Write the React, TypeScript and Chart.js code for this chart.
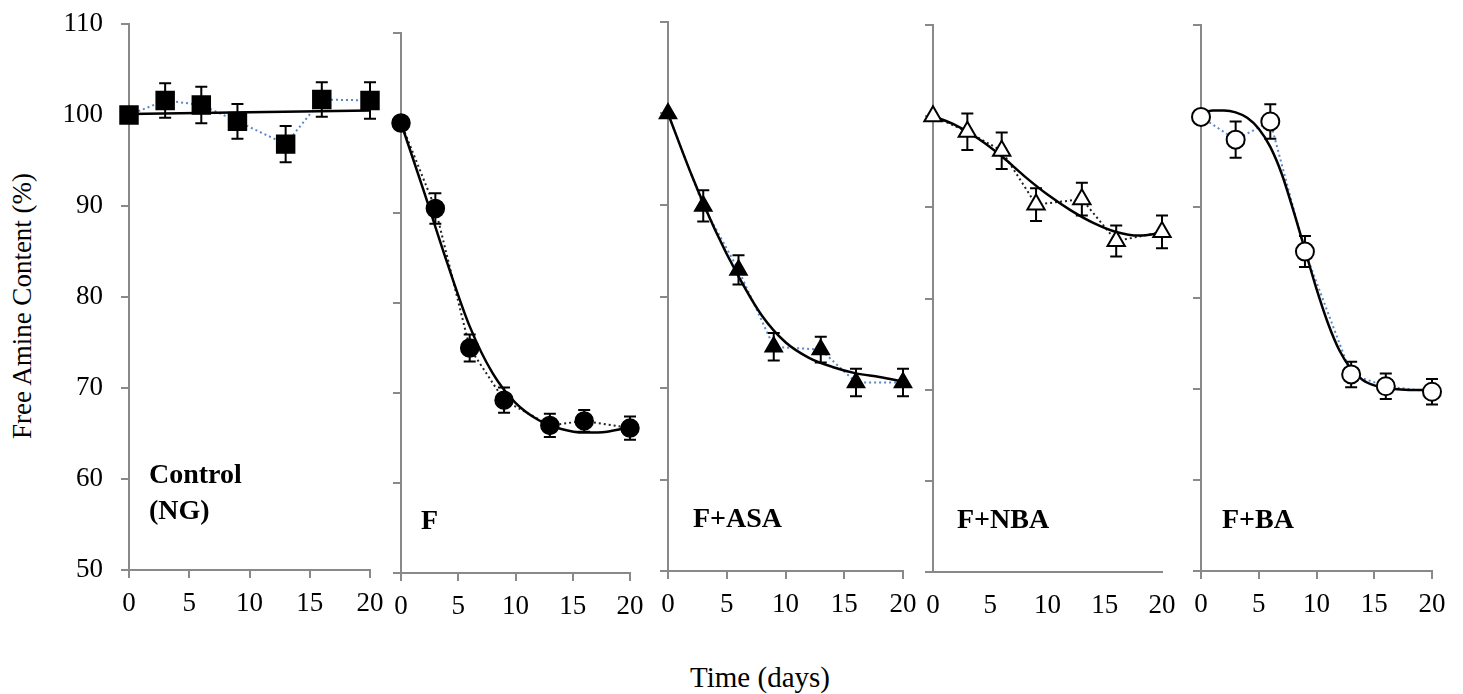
import React, { useEffect, useRef } from 'react';
import { Chart, registerables } from 'chart.js';

Chart.register(...registerables);

// ---------- data ----------
const days = [0, 3, 6, 9, 13, 16, 20];

const controlValues = [100, 101.6, 101.1, 99.3, 96.8, 101.7, 101.6];
const controlErrors = [0, 1.9, 2.0, 1.9, 2.0, 1.9, 2.0];
const controlFitDays = [0, 20];
const controlFit = [100.1, 100.5];

const fValues = [100, 90.5, 75.0, 69.2, 66.4, 66.9, 66.1];
const fErrors = [0, 1.7, 1.5, 1.4, 1.3, 1.2, 1.3];

const asaValues = [100, 89.9, 82.9, 74.5, 74.2, 70.6, 70.6];
const asaErrors = [0, 1.7, 1.6, 1.5, 1.4, 1.5, 1.5];

const nbaValues = [100, 98.3, 96.2, 90.3, 90.9, 86.3, 87.3];
const nbaErrors = [0, 2.0, 2.0, 1.8, 1.8, 1.7, 1.8];

const baValues = [99.9, 97.4, 99.4, 85.1, 71.6, 70.3, 69.7];
const baErrors = [0, 2.0, 1.9, 1.7, 1.4, 1.4, 1.4];

const fitDays = [0, 2, 4, 6, 8, 10, 12, 14, 16, 18, 20];
const fFit = [100, 92.4, 84.6, 77.4, 72.2, 68.9, 67.0, 66.0, 65.6, 65.7, 66.2];
const asaFit = [100, 93.3, 87.3, 82.2, 77.9, 75.0, 73.3, 72.3, 71.6, 71.2, 70.7];
const nbaFit = [100, 99.0, 97.5, 95.6, 93.4, 91.4, 89.7, 88.3, 87.3, 86.9, 87.2];

const baFitDays = [0, 1, 2, 3, 4, 5, 6, 7, 8, 9, 10, 11, 12, 13, 14, 15, 16, 18, 20];
const baFit = [100.3, 100.6, 100.6, 100.4, 99.8, 98.6, 96.6, 93.6, 89.6, 85.3, 81.0, 77.2, 74.2, 72.2, 71.0, 70.4, 70.1, 69.9, 69.9];

const xMin = 0;
const xMax = 20;
const xStep = 5;
const yMin = 50;
const yMax = 110;
const yStep = 10;

const yTitle = 'Free Amine Content (%)';
const xTitle = 'Time (days)';

// ---------- styling / layout ----------
const AXIS = '#898989';
const BLUE = '#5b87c6';
const FONT = 'Liberation Serif, Times New Roman, serif';

type Panel = {
  name: string[];
  values: number[];
  errors: number[];
  fitX: number[];
  fitY: number[];
  marker: 'rect' | 'circle' | 'triangle';
  radius: number;
  fill: string;
  dotColor: string;
  L: number; R: number; T: number; B: number;
  showY: boolean;
  xTickMarks: boolean;
  labelLeft: number;
  labelTop: number;
};

const panels: Panel[] = [
  { name: ['Control', '(NG)'], values: controlValues, errors: controlErrors, fitX: controlFitDays, fitY: controlFit,
    marker: 'rect', radius: 12.7, fill: '#000', dotColor: BLUE, L: 129, R: 370, T: 24, B: 570, showY: true, xTickMarks: true,
    labelLeft: 149, labelTop: 455.5 },
  { name: ['F'], values: fValues, errors: fErrors, fitX: fitDays, fitY: fFit,
    marker: 'circle', radius: 9, fill: '#000', dotColor: '#222', L: 401, R: 630, T: 33, B: 573, showY: false, xTickMarks: true,
    labelLeft: 421, labelTop: 501.5 },
  { name: ['F+ASA'], values: asaValues, errors: asaErrors, fitX: fitDays, fitY: asaFit,
    marker: 'triangle', radius: 10, fill: '#000', dotColor: BLUE, L: 668, R: 903, T: 22, B: 571, showY: false, xTickMarks: true,
    labelLeft: 693, labelTop: 499.5 },
  { name: ['F+NBA'], values: nbaValues, errors: nbaErrors, fitX: fitDays, fitY: nbaFit,
    marker: 'triangle', radius: 10, fill: '#fff', dotColor: '#222', L: 933, R: 1162, T: 25, B: 572, showY: false, xTickMarks: false,
    labelLeft: 957, labelTop: 500.5 },
  { name: ['F+BA'], values: baValues, errors: baErrors, fitX: baFitDays, fitY: baFit,
    marker: 'circle', radius: 9, fill: '#fff', dotColor: BLUE, L: 1201, R: 1432, T: 25, B: 571, showY: false, xTickMarks: true,
    labelLeft: 1222, labelTop: 500.5 },
];

const PAD_TOP = 20;
const PAD_RIGHT = 25;
const X_AXIS_H = 60;

function yAxisWidth(p: Panel) {
  return p.showY ? p.L - 40 : 30;
}

const errorBarPlugin = {
  id: 'errorBars',
  beforeDatasetDraw(chart: any, args: any) {
    const ds: any = chart.data.datasets[args.index];
    if (!ds.errors) return;
    const xs = chart.scales.x;
    const ys = chart.scales.y;
    const ctx = chart.ctx;
    ctx.save();
    ctx.strokeStyle = '#000';
    ctx.lineWidth = 2;
    ds.data.forEach((pt: any, i: number) => {
      const e = ds.errors[i];
      if (!e) return;
      const x = xs.getPixelForValue(pt.x);
      const y1 = ys.getPixelForValue(pt.y + e);
      const y2 = ys.getPixelForValue(pt.y - e);
      ctx.beginPath();
      ctx.moveTo(x, y1); ctx.lineTo(x, y2);
      ctx.moveTo(x - 6, y1); ctx.lineTo(x + 6, y1);
      ctx.moveTo(x - 6, y2); ctx.lineTo(x + 6, y2);
      ctx.stroke();
    });
    ctx.restore();
  },
};

function makeConfig(p: Panel): any {
  const pts = days.map((d, i) => ({ x: d, y: p.values[i] }));
  const fit = p.fitX.map((d, i) => ({ x: d, y: p.fitY[i] }));
  const yW = yAxisWidth(p);
  return {
    type: 'scatter',
    data: {
      datasets: [
        { data: pts, showLine: true, borderColor: p.dotColor, borderWidth: 2, borderDash: [2, 3], pointRadius: 0, fill: false, order: 3, clip: false, tension: 0 },
        { data: fit, showLine: true, borderColor: '#000', borderWidth: 2.5, pointRadius: 0, fill: false, order: 2, clip: false, cubicInterpolationMode: 'monotone' },
        { data: pts, showLine: false, pointStyle: p.marker, pointRadius: p.radius, pointHoverRadius: p.radius,
          pointBackgroundColor: p.fill, pointBorderColor: '#000', pointBorderWidth: p.fill === '#fff' ? 2 : 1.5, order: 1, clip: false, errors: p.errors },
      ],
    },
    options: {
      responsive: false,
      animation: false,
      events: [],
      layout: { padding: { top: PAD_TOP, right: PAD_RIGHT, left: 0, bottom: 0 } },
      plugins: { legend: { display: false }, tooltip: { enabled: false } },
      scales: {
        x: {
          type: 'linear', min: xMin, max: xMax,
          ticks: { stepSize: xStep, color: '#000', font: { family: FONT, size: 27 }, padding: p.xTickMarks ? 10 : 18, maxRotation: 0, autoSkip: false },
          grid: { display: true, drawOnChartArea: false, drawTicks: p.xTickMarks, tickLength: 8, color: AXIS, lineWidth: 2 },
          border: { display: true, color: AXIS, width: 2 },
          afterFit(scale: any) { scale.height = X_AXIS_H; scale.paddingLeft = 0; scale.paddingRight = 0; scale.paddingTop = 0; scale.paddingBottom = 0; },
        },
        y: {
          type: 'linear', min: yMin, max: yMax,
          ticks: { stepSize: yStep, display: p.showY, color: '#000', font: { family: FONT, size: 27 }, padding: 18 },
          grid: { display: true, drawOnChartArea: false, drawTicks: true, tickLength: 8, color: AXIS, lineWidth: 2 },
          border: { display: true, color: AXIS, width: 2 },
          afterFit(scale: any) { scale.width = yW; scale.paddingTop = 0; scale.paddingBottom = 0; scale.paddingLeft = 0; scale.paddingRight = 0; },
        },
      },
    },
    plugins: [errorBarPlugin],
  };
}

function PanelChart({ p }: { p: Panel }) {
  const ref = useRef<HTMLCanvasElement>(null);
  const yW = yAxisWidth(p);
  const left = p.L - yW;
  const top = p.T - PAD_TOP;
  const width = p.R - p.L + yW + PAD_RIGHT;
  const height = p.B - p.T + PAD_TOP + X_AXIS_H;
  useEffect(() => {
    const chart = new Chart(ref.current as HTMLCanvasElement, makeConfig(p));
    return () => chart.destroy();
  }, []);
  return (
    <div style={{ position: 'absolute', left, top, width, height }}>
      <canvas ref={ref} width={width} height={height} style={{ display: 'block' }} />
    </div>
  );
}

export default function App() {
  return (
    <div style={{ position: 'fixed', left: 0, top: 0, width: 1463, height: 694, background: '#fff', overflow: 'hidden' }}>
      {panels.map((p, i) => (
        <PanelChart key={i} p={p} />
      ))}
      {panels.map((p, i) => (
        <div key={'l' + i} style={{ position: 'absolute', left: p.labelLeft, top: p.labelTop, fontFamily: FONT, fontWeight: 'bold', fontSize: 28, lineHeight: '36px', color: '#000', whiteSpace: 'nowrap' }}>
          {p.name.map((n, j) => (<div key={j}>{n}</div>))}
        </div>
      ))}
      <div style={{ position: 'absolute', left: 22, top: 306, transform: 'translate(-50%, -50%) rotate(-90deg)', fontFamily: FONT, fontSize: 27, color: '#000', whiteSpace: 'nowrap', lineHeight: 1 }}>
        {yTitle}
      </div>
      <div style={{ position: 'absolute', left: 760, top: 677, transform: 'translate(-50%, -50%)', fontFamily: FONT, fontSize: 29, color: '#000', whiteSpace: 'nowrap', lineHeight: 1 }}>
        {xTitle}
      </div>
    </div>
  );
}
